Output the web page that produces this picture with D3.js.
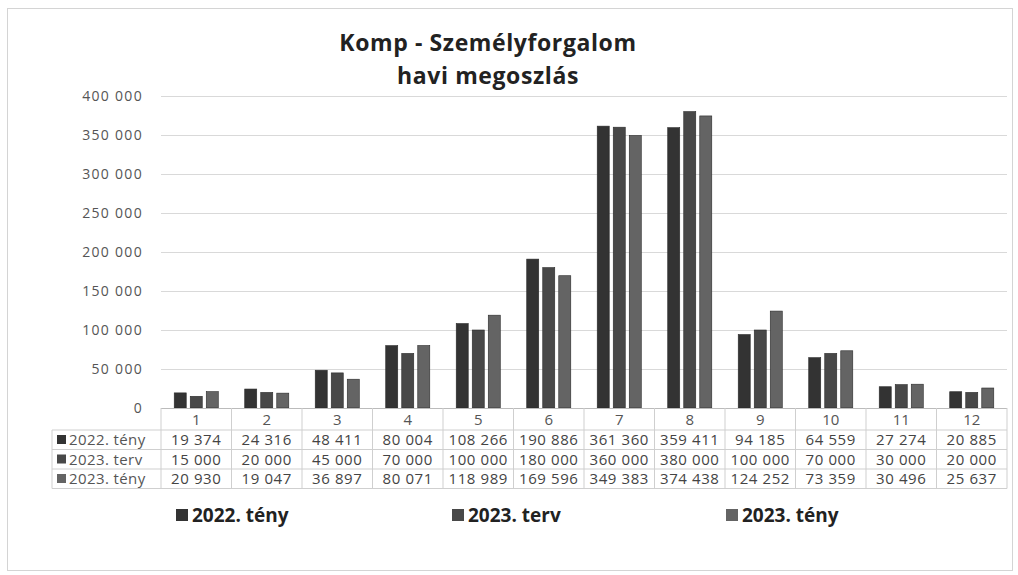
<!DOCTYPE html>
<html>
<head>
<meta charset="utf-8">
<script src="https://cdn.jsdelivr.net/npm/d3@7"></script>
<style>
  body { margin: 0; background: #fff; }
  svg { display: block; }
</style>
</head>
<body>
<div id="chart"></div>
<script>
// data
var months = ["1", "2", "3", "4", "5", "6", "7", "8", "9", "10", "11", "12"];
var seriesNames = ["2022. tény", "2023. terv", "2023. tény"];
var teny2022 = [19374, 24316, 48411, 80004, 108266, 190886, 361360, 359411, 94185, 64559, 27274, 20885];
var terv2023 = [15000, 20000, 45000, 70000, 100000, 180000, 360000, 380000, 100000, 70000, 30000, 20000];
var teny2023 = [20930, 19047, 36897, 80071, 118989, 169596, 349383, 374438, 124252, 73359, 30496, 25637];
var yTicks = [0, 50000, 100000, 150000, 200000, 250000, 300000, 350000, 400000];
var colors = ["#333333", "#484848", "#646464"];

var allSeries = [teny2022, terv2023, teny2023];

var width = 1018, height = 575;
var plot = {left: 161, right: 1007, top: 96, bottom: 408};
var rowH = 19.5;

var svg = d3.select("#chart").append("svg")
    .attr("width", width)
    .attr("height", height);

// thin frame of the chart area
svg.append("rect")
    .attr("x", 7.5).attr("y", 8.5)
    .attr("width", 1005).attr("height", 562)
    .attr("fill", "none")
    .attr("stroke", "#d4d4d4");

// title
svg.append("text").text("Komp - Személyforgalom")
    .attr("x", 488).attr("y", 51)
    .attr("text-anchor", "middle")
    .style("font-family", "Open Sans").style("font-weight", "bold")
    .style("font-size", "23px").style("letter-spacing", "0.6px")
    .attr("fill", "#222");
svg.append("text").text("havi megoszlás")
    .attr("x", 488).attr("y", 84)
    .attr("text-anchor", "middle")
    .style("font-family", "Open Sans").style("font-weight", "bold")
    .style("font-size", "23px").style("letter-spacing", "0.6px")
    .attr("fill", "#222");

var x = d3.scaleBand()
    .domain(months)
    .range([plot.left, plot.right])
    .paddingInner(0.375)
    .paddingOuter(0.1875);

var xs = d3.scaleBand()
    .domain(d3.range(3))
    .range([0, x.bandwidth()])
    .paddingInner(0.25);

var y = d3.scaleLinear()
    .domain([0, 400000])
    .range([plot.bottom, plot.top]);

var fmt = function(v){ return d3.format(",")(v).replace(/,/g, " "); };

// gridlines + y labels
var yAxis = d3.axisLeft(y)
    .tickValues(yTicks)
    .tickSize(-(plot.right - plot.left))
    .tickPadding(18)
    .tickFormat(fmt);

var gy = svg.append("g")
    .attr("transform", "translate(" + plot.left + ",0)")
    .call(yAxis);
gy.select(".domain").remove();
gy.selectAll(".tick line").attr("stroke", "#d9d9d9");
gy.selectAll(".tick text")
    .attr("fill", "#555")
    .style("font-family", "Open Sans")
    .style("font-size", "14px")
    .style("letter-spacing", "1.3px");

// bars
var groups = svg.selectAll(".month")
    .data(months)
    .enter().append("g")
    .attr("class", "month")
    .attr("transform", function(d){ return "translate(" + x(d) + ",0)"; });

groups.selectAll("rect")
    .data(function(d, i){ return allSeries.map(function(s, k){ return {k: k, v: s[i]}; }); })
    .enter().append("rect")
    .attr("x", function(d){ return xs(d.k); })
    .attr("width", xs.bandwidth())
    .attr("y", function(d){ return y(d.v); })
    .attr("height", function(d){ return y(0) - y(d.v); })
    .attr("fill", function(d){ return colors[d.k]; })
    .attr("stroke", "#2a2a2a")
    .attr("stroke-width", 0.6);

// data table under the axis
var colW = x.step();
var tableLeft = 52;
var lineCol = "#cfcfcf";
var tbl = svg.append("g");

// horizontal lines
tbl.append("line")
    .attr("x1", plot.left).attr("x2", plot.right)
    .attr("y1", plot.bottom + 0.5).attr("y2", plot.bottom + 0.5)
    .attr("stroke", "#bbb");
for (var r = 1; r <= 4; r++) {
    var yy = plot.bottom + 22 + (r - 1) * rowH;
    tbl.append("line")
        .attr("x1", tableLeft).attr("x2", plot.right)
        .attr("y1", yy).attr("y2", yy)
        .attr("stroke", lineCol);
}
// vertical lines
for (var c = 0; c <= 12; c++) {
    var xx = plot.left + c * colW;
    tbl.append("line")
        .attr("x1", xx).attr("x2", xx)
        .attr("y1", plot.bottom).attr("y2", plot.bottom + 22 + 3 * rowH)
        .attr("stroke", lineCol);
}
tbl.append("line")
    .attr("x1", tableLeft).attr("x2", tableLeft)
    .attr("y1", plot.bottom + 22).attr("y2", plot.bottom + 22 + 3 * rowH)
    .attr("stroke", lineCol);

// month header
tbl.selectAll(".mlab")
    .data(months)
    .enter().append("text")
    .attr("x", function(d){ return x(d) + x.bandwidth() / 2; })
    .attr("y", plot.bottom + 17)
    .attr("text-anchor", "middle")
    .attr("fill", "#555")
    .style("font-family", "Open Sans")
    .style("font-size", "15px")
    .text(function(d){ return d; });

// rows
allSeries.forEach(function(s, k){
    var base = plot.bottom + 22 + k * rowH + 15;
    tbl.append("rect")
        .attr("x", 57).attr("y", base - 10)
        .attr("width", 9).attr("height", 9)
        .attr("fill", colors[k]);
    tbl.append("text")
        .attr("x", 69).attr("y", base)
        .attr("fill", "#555")
        .style("font-family", "Open Sans")
        .style("font-size", "15px")
        .style("letter-spacing", "0.4px")
        .text(seriesNames[k]);
    tbl.selectAll(".v" + k)
        .data(s)
        .enter().append("text")
        .attr("x", function(d, i){ return x(months[i]) + x.bandwidth() / 2; })
        .attr("y", base)
        .attr("text-anchor", "middle")
        .attr("fill", "#444")
        .style("font-family", "Open Sans")
        .style("font-size", "15px")
        .style("letter-spacing", "0.6px")
        .text(function(d){ return fmt(d); });
});

// legend
var legX = [176, 452, 726];
var leg = svg.selectAll(".leg")
    .data(seriesNames)
    .enter().append("g")
    .attr("transform", function(d, i){ return "translate(" + legX[i] + ",522)"; });
leg.append("rect")
    .attr("x", 0).attr("y", -13)
    .attr("width", 12).attr("height", 12)
    .attr("fill", function(d, i){ return colors[i]; });
leg.append("text")
    .attr("x", 16).attr("y", 0)
    .attr("fill", "#222")
    .style("font-family", "Open Sans")
    .style("font-weight", "bold")
    .style("font-size", "19px")
    .text(function(d){ return d; });
</script>
</body>
</html>
